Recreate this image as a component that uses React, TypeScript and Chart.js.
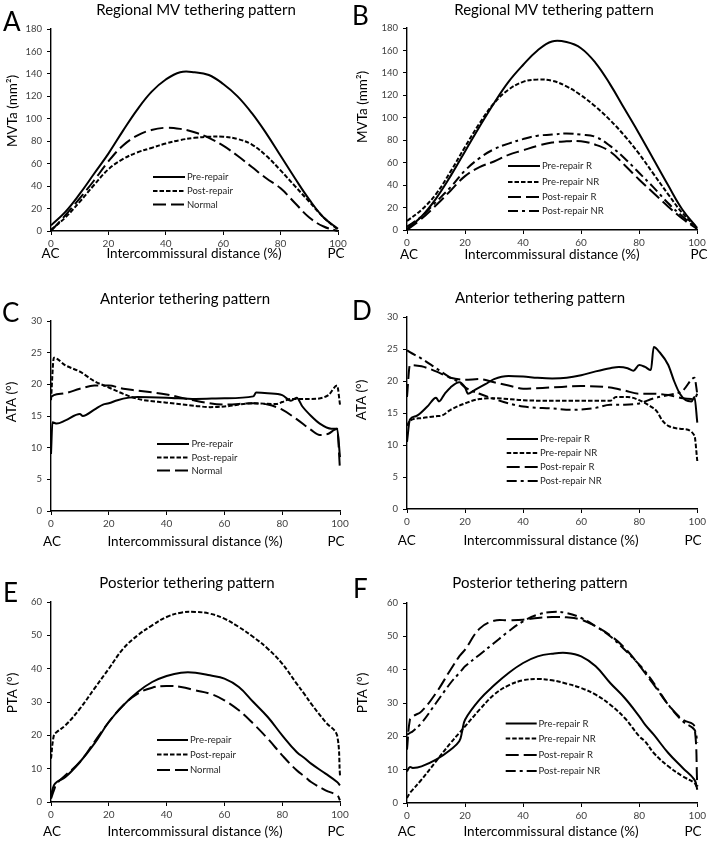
import React, { useEffect, useRef } from 'react';
import { Chart, registerables } from 'chart.js';
Chart.register(...registerables);

const FONT = 'Lato, "Open Sans", sans-serif';

// ---------- DATA ----------
const X21 = [0, 5, 10, 15, 20, 25, 30, 35, 40, 45, 50, 55, 60, 65, 70, 75, 80, 85, 90, 95, 100];

// Panel A – Regional MV tethering (MVTa, mm²)
const aPre = [5, 17, 33, 51, 69, 89, 108, 124, 135, 141.5, 141.5, 139, 131, 120, 105, 87, 67, 47, 28, 12, 2];
const aPost = [1, 12, 26, 41, 55, 64, 70, 74, 78, 81, 83, 84, 84, 82, 77, 67, 54, 40, 26, 12, 1];
const aNorm = [0, 14, 29, 45, 62, 76, 85, 90, 92, 91, 88, 83, 76, 67, 57, 47, 38, 25, 12, 4, 0];

// Panel B
const bPreR = [1, 12, 28, 48, 70, 92, 113, 132, 147, 160, 168, 167.5, 162, 149, 130, 108, 86, 63, 40, 18, 2];
const bPreNR = [8, 18, 32, 52, 74, 95, 113, 125, 132, 134, 133, 128, 120, 110, 98, 84, 68, 50, 32, 15, 2];
const bPostR = [0, 10, 22, 35, 48, 56, 61, 67, 71, 75, 78, 79, 79, 76, 70, 58, 45, 33, 21, 10, 1];
const bPostNR = [3, 12, 25, 38, 53, 64, 72, 77, 81, 84, 85, 86, 85, 83, 75, 64, 51, 38, 24, 12, 1];

// Panel C – Anterior tethering (ATA, °)
const cPreX = [0, 0.5, 2, 5, 10, 11, 15, 18, 20, 23, 27, 30, 40, 50, 60, 70, 71, 75, 80, 83, 85, 87, 90, 93, 97, 99, 100];
const cPreY = [9, 14, 13.8, 14.3, 15.3, 15, 16, 16.8, 17, 17.5, 17.9, 18, 17.9, 17.7, 17.8, 18.1, 18.7, 18.6, 18.3, 17.4, 17.9, 16.5, 15, 13.8, 13, 13, 8.5];
const cPostX = [0, 1, 5, 10, 15, 20, 25, 30, 40, 50, 55, 60, 70, 78, 80, 83, 90, 96, 99, 100];
const cPostY = [17.5, 24.2, 23, 22, 20.5, 19.5, 18.5, 17.7, 17.1, 16.6, 16.4, 16.5, 17, 16.9, 17.2, 17.7, 17.7, 18.3, 19.8, 16.8];
const cNormX = [0, 1, 5, 10, 15, 20, 25, 30, 40, 50, 60, 70, 75, 80, 85, 90, 93, 96, 98, 99, 100];
const cNormY = [18, 18.3, 18.6, 19.3, 19.8, 19.8, 19.3, 19, 18.4, 17.4, 16.8, 17, 16.8, 16, 14.5, 12.8, 12, 12.2, 12.8, 13, 6.5];

// Panel D
const dPreRX = [0, 1, 3, 7, 10, 11, 13, 15, 18, 20, 21, 23, 27, 30, 35, 40, 45, 50, 55, 60, 65, 70, 73, 76, 78, 80, 82, 84, 85, 87, 90, 92, 94, 96, 98, 99, 100];
const dPreRY = [10.5, 14, 14.5, 16, 17.4, 16.8, 18, 19, 19.8, 19, 18, 18.5, 19.5, 20.3, 20.8, 20.7, 20.5, 20.4, 20.5, 20.9, 21.5, 22, 22.2, 22, 21.6, 22.5, 22.2, 21.7, 25.3, 24.5, 22.5, 20, 18, 17, 16.8, 17.5, 13.5];
const dPreNRX = [0, 1, 5, 10, 12, 15, 20, 25, 30, 40, 50, 60, 70, 72, 76, 80, 84, 86, 88, 90, 95, 99, 100];
const dPreNRY = [13, 13.8, 14.2, 14.5, 14.6, 15.5, 16.5, 17.2, 17.3, 17, 16.9, 16.9, 16.9, 17.5, 17.5, 17, 16, 15.3, 13.8, 13, 12.5, 11.5, 7.5];
const dPostRX = [0, 1, 5, 10, 15, 20, 25, 30, 35, 40, 50, 60, 70, 75, 80, 85, 90, 95, 99, 100];
const dPostRY = [17.5, 22.5, 22.3, 21.5, 20.5, 20.2, 20.3, 19.8, 19.3, 18.8, 19, 19.2, 19, 18.5, 18, 18, 17.8, 17.3, 17.2, 18];
const dPostNRX = [0, 1, 5, 10, 15, 18, 20, 25, 30, 35, 40, 50, 57, 65, 70, 75, 80, 85, 90, 95, 99, 100];
const dPostNRY = [24.8, 24.5, 23.5, 22, 20.5, 19.8, 19, 18, 17.2, 16.5, 16, 15.7, 15.5, 15.8, 16.3, 16.3, 16.5, 17.3, 17.8, 18.5, 20.5, 18];

// Panel E – Posterior tethering (PTA, °)
const eX = [0, 1, 2, 5, 10, 15, 20, 25, 30, 35, 40, 45, 50, 55, 60, 65, 70, 75, 80, 85, 88, 90, 95, 99, 100];
const ePre = [2, 5, 6, 7.5, 12, 17.5, 24, 29, 33, 36, 37.8, 38.8, 38.8, 38, 37, 34.5, 30, 25.5, 20, 15, 13, 11.5, 8.5, 6, 5];
const ePost = [13, 20, 21, 23, 28, 34, 40, 46, 50, 53, 55.5, 56.8, 57, 56.5, 55, 52.5, 49.5, 46, 41.5, 35.5, 32, 29.5, 24, 20, 8];
const eNorm = [1, 3.5, 5.5, 8, 12, 18, 24, 29, 32.5, 34.3, 34.8, 34.5, 33.5, 32.5, 30.5, 27.5, 23.5, 19, 14, 9.5, 7.5, 6, 3.5, 2, 0.5];

// Panel F
const fX = [0, 1, 2, 5, 10, 15, 18, 19, 20, 25, 30, 35, 40, 45, 50, 55, 60, 65, 70, 75, 80, 82, 85, 90, 95, 99, 100];
const fPreR = [9.5, 10.8, 10.5, 11, 13, 16, 18.5, 21.5, 25, 31, 35.3, 39, 42, 44, 44.8, 45, 44, 41, 36, 31.5, 26, 23.5, 20.5, 15, 10.5, 7, 4];
const fPreNR = [1.5, 3, 4, 7, 12.5, 18, 21, 22, 23, 28, 32.5, 35.3, 36.8, 37.2, 36.8, 35.8, 34.5, 32.5, 29.5, 25.5, 20, 18.5, 15, 11, 8, 6, 4.5];
const fPostR = [16, 25, 26, 27.5, 33, 40, 44, 45, 46, 52.3, 54.7, 54.8, 55, 55.5, 55.8, 55.7, 55, 53, 50.3, 46.5, 41.3, 39, 35.5, 29.5, 25, 23, 5];
const fPostNR = [20.5, 21, 21.5, 24, 30, 36, 39, 40, 41, 44.5, 48, 51.5, 54.5, 56.5, 57.3, 57, 55.5, 53, 50, 46, 41.5, 39.5, 36, 29.5, 24.5, 22, 18];

const X_TICK_STEP = 20;
const MV_MAX = 180, MV_STEP = 20;
const ATA_MAX = 30, ATA_STEP = 5;
const PTA_MAX = 60, PTA_STEP = 10;

const SOLID: number[] = [];
const SHORT = [4.5, 2];
const LONG = [13, 5];
const DASHDOT = [10, 4, 3, 4];

type Series = { label: string; xs: number[]; ys: number[]; dash: number[] };

type Panel = {
  letter: string; title: string; yTitle: string;
  yMax: number; yStep: number; smooth: boolean;
  series: Series[];
  canvas: [number, number, number, number];
  area: [number, number, number, number];
  letterPos: [number, number];
  titlePos: [number, number];
  yTitlePos: [number, number];
  xTitlePos: [number, number];
  acX: number; pcX: number;
  legend: { x1: number; x2: number; tx: number; ys: number[] };
};

const PANELS: Panel[] = [
  {
    letter: 'A', title: 'Regional MV tethering pattern', yTitle: 'MVTa (mm²)', yMax: MV_MAX, yStep: MV_STEP, smooth: true,
    series: [
      { label: 'Pre-repair', xs: X21, ys: aPre, dash: SOLID },
      { label: 'Post-repair', xs: X21, ys: aPost, dash: SHORT },
      { label: 'Normal', xs: X21, ys: aNorm, dash: LONG },
    ],
    canvas: [0, 0, 354, 280], area: [51, 29, 338, 231],
    letterPos: [3, 31], titlePos: [196, 10], yTitlePos: [13, 111], xTitlePos: [194, 254], acX: 50.5, pcX: 336,
    legend: { x1: 153, x2: 185, tx: 187, ys: [177, 191, 204.5] },
  },
  {
    letter: 'B', title: 'Regional MV tethering pattern', yTitle: 'MVTa (mm²)', yMax: MV_MAX, yStep: MV_STEP, smooth: true,
    series: [
      { label: 'Pre-repair R', xs: X21, ys: bPreR, dash: SOLID },
      { label: 'Pre-repair NR', xs: X21, ys: bPreNR, dash: SHORT },
      { label: 'Post-repair R', xs: X21, ys: bPostR, dash: LONG },
      { label: 'Post-repair NR', xs: X21, ys: bPostNR, dash: DASHDOT },
    ],
    canvas: [354, 0, 355, 280], area: [407, 28, 697, 230],
    letterPos: [352, 25], titlePos: [554, 10], yTitlePos: [363, 107], xTitlePos: [552, 255], acX: 409, pcX: 699,
    legend: { x1: 508, x2: 540, tx: 542, ys: [166, 182, 197, 211] },
  },
  {
    letter: 'C', title: 'Anterior tethering pattern', yTitle: 'ATA (°)', yMax: ATA_MAX, yStep: ATA_STEP, smooth: false,
    series: [
      { label: 'Pre-repair', xs: cPreX, ys: cPreY, dash: SOLID },
      { label: 'Post-repair', xs: cPostX, ys: cPostY, dash: SHORT },
      { label: 'Normal', xs: cNormX, ys: cNormY, dash: LONG },
    ],
    canvas: [0, 280, 354, 285], area: [51, 321, 340, 511],
    letterPos: [2, 322], titlePos: [185, 299], yTitlePos: [12, 402], xTitlePos: [195, 541.5], acX: 52, pcX: 336,
    legend: { x1: 157, x2: 189, tx: 191.5, ys: [444, 457.5, 470.5] },
  },
  {
    letter: 'D', title: 'Anterior tethering pattern', yTitle: 'ATA (°)', yMax: ATA_MAX, yStep: ATA_STEP, smooth: false,
    series: [
      { label: 'Pre-repair R', xs: dPreRX, ys: dPreRY, dash: SOLID },
      { label: 'Pre-repair NR', xs: dPreNRX, ys: dPreNRY, dash: SHORT },
      { label: 'Post-repair R', xs: dPostRX, ys: dPostRY, dash: LONG },
      { label: 'Post-repair NR', xs: dPostNRX, ys: dPostNRY, dash: DASHDOT },
    ],
    canvas: [354, 280, 355, 285], area: [407, 317, 698, 509],
    letterPos: [352, 320], titlePos: [540, 298], yTitlePos: [362, 400], xTitlePos: [551, 541], acX: 406.7, pcX: 693,
    legend: { x1: 506.7, x2: 538, tx: 540, ys: [439, 453, 467, 481] },
  },
  {
    letter: 'E', title: 'Posterior tethering pattern', yTitle: 'PTA (°)', yMax: PTA_MAX, yStep: PTA_STEP, smooth: true,
    series: [
      { label: 'Pre-repair', xs: eX, ys: ePre, dash: SOLID },
      { label: 'Post-repair', xs: eX, ys: ePost, dash: SHORT },
      { label: 'Normal', xs: eX, ys: eNorm, dash: LONG },
    ],
    canvas: [0, 565, 354, 276], area: [51, 602, 340, 802],
    letterPos: [3, 602], titlePos: [187, 583], yTitlePos: [13, 693], xTitlePos: [195, 832], acX: 52, pcX: 336,
    legend: { x1: 157, x2: 188, tx: 190, ys: [740, 754.5, 770] },
  },
  {
    letter: 'F', title: 'Posterior tethering pattern', yTitle: 'PTA (°)', yMax: PTA_MAX, yStep: PTA_STEP, smooth: true,
    series: [
      { label: 'Pre-repair R', xs: fX, ys: fPreR, dash: SOLID },
      { label: 'Pre-repair NR', xs: fX, ys: fPreNR, dash: SHORT },
      { label: 'Post-repair R', xs: fX, ys: fPostR, dash: LONG },
      { label: 'Post-repair NR', xs: fX, ys: fPostNR, dash: DASHDOT },
    ],
    canvas: [354, 565, 355, 276], area: [407, 603, 698, 803],
    letterPos: [353, 598], titlePos: [540, 583], yTitlePos: [363, 693], xTitlePos: [551, 832], acX: 406.7, pcX: 693,
    legend: { x1: 505.7, x2: 536.7, tx: 538.5, ys: [723.5, 738.5, 755, 771] },
  },
];

const Y_AXIS_W = 30;
const X_AXIS_H = 22;
const TEXT = '#000';
const TICK_TEXT = '#404040';

function PanelChart({ p }: { p: Panel }) {
  const ref = useRef<HTMLCanvasElement | null>(null);
  useEffect(() => {
    const canvas = ref.current!;
    const [cx, cy, cw, ch] = p.canvas;
    const [L, T, R, B] = p.area;
    const textPlugin = {
      id: 'panelText' + p.letter,
      afterDraw(chart: any) {
        const ctx = chart.ctx as CanvasRenderingContext2D;
        ctx.save();
        ctx.fillStyle = TEXT;
        // panel letter
        ctx.textAlign = 'left';
        ctx.textBaseline = 'alphabetic';
        ctx.font = `26px ${FONT}`;
        ctx.fillText(p.letter, p.letterPos[0] - cx, p.letterPos[1] - cy);
        // title
        ctx.textAlign = 'center';
        ctx.textBaseline = 'middle';
        ctx.font = `15px ${FONT}`;
        ctx.fillText(p.title, p.titlePos[0] - cx, p.titlePos[1] - cy);
        // x title & AC / PC
        ctx.font = `13.5px ${FONT}`;
        ctx.fillText('Intercommissural distance (%)', p.xTitlePos[0] - cx, p.xTitlePos[1] - cy);
        ctx.fillText('AC', p.acX - cx, p.xTitlePos[1] - cy);
        ctx.fillText('PC', p.pcX - cx, p.xTitlePos[1] - cy);
        // y title
        ctx.save();
        ctx.translate(p.yTitlePos[0] - cx, p.yTitlePos[1] - cy);
        ctx.rotate(-Math.PI / 2);
        ctx.font = `13.5px ${FONT}`;
        ctx.fillText(p.yTitle, 0, 0);
        ctx.restore();
        // legend
        p.series.forEach((s, i) => {
          const y = p.legend.ys[i] - cy;
          ctx.beginPath();
          ctx.setLineDash(s.dash);
          ctx.lineWidth = 2;
          ctx.strokeStyle = '#000';
          ctx.moveTo(p.legend.x1 - cx, y);
          ctx.lineTo(p.legend.x2 - cx, y);
          ctx.stroke();
          ctx.setLineDash([]);
          ctx.textAlign = 'left';
          ctx.textBaseline = 'middle';
          ctx.font = `9.5px ${FONT}`;
          ctx.fillStyle = '#262626';
          ctx.fillText(s.label, p.legend.tx - cx, y);
        });
        ctx.restore();
      },
    };
    const chart = new Chart(canvas, {
      type: 'line',
      data: {
        datasets: p.series.map((s) => ({
          label: s.label,
          data: s.xs.map((x, i) => ({ x, y: s.ys[i] })),
          borderColor: '#000',
          borderWidth: 2,
          borderDash: s.dash,
          pointRadius: 0,
          fill: false,
          tension: p.smooth ? 0.4 : 0,
          cubicInterpolationMode: p.smooth ? 'default' : 'monotone',
          clip: 3,
        })),
      },
      options: {
        responsive: false,
        animation: false,
        events: [],
        layout: {
          padding: {
            left: L - cx - Y_AXIS_W,
            top: T - cy,
            right: cx + cw - R,
            bottom: cy + ch - B - X_AXIS_H,
          },
        },
        plugins: { legend: { display: false }, title: { display: false }, tooltip: { enabled: false } },
        scales: {
          x: {
            type: 'linear', min: 0, max: 100,
            ticks: { stepSize: X_TICK_STEP, color: TICK_TEXT, font: { family: FONT, size: 10 }, padding: 3, maxRotation: 0 },
            grid: { drawOnChartArea: false, drawTicks: true, tickLength: 4, color: '#000' },
            border: { color: '#000', width: 1.4 },
            afterFit: (s: any) => { s.height = X_AXIS_H; },
          },
          y: {
            type: 'linear', min: 0, max: p.yMax,
            ticks: { stepSize: p.yStep, color: TICK_TEXT, font: { family: FONT, size: 9.5 }, padding: 5 },
            grid: { drawOnChartArea: false, drawTicks: true, tickLength: 4, color: '#000' },
            border: { color: '#000', width: 1.4 },
            afterFit: (s: any) => { s.width = Y_AXIS_W; },
          },
        },
      } as any,
      plugins: [textPlugin],
    });
    return () => chart.destroy();
  }, [p]);
  const [cx, cy, cw, ch] = p.canvas;
  return (
    <canvas
      ref={ref}
      width={cw}
      height={ch}
      style={{ position: 'absolute', left: cx, top: cy, width: cw, height: ch }}
    />
  );
}

export default function App() {
  return (
    <div style={{ position: 'absolute', left: 0, top: 0, width: 709, height: 841, background: '#fff', overflow: 'hidden' }}>
      {PANELS.map((p) => (
        <PanelChart key={p.letter} p={p} />
      ))}
    </div>
  );
}
